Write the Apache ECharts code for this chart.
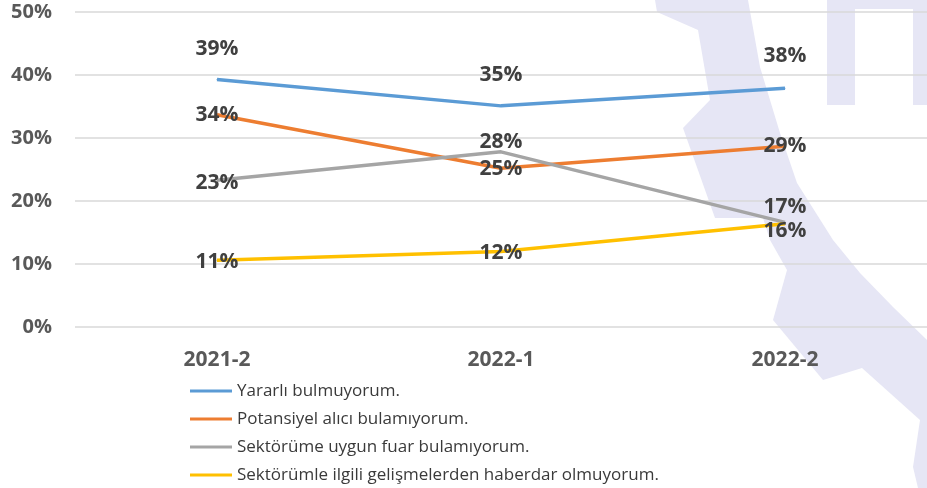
<!DOCTYPE html>
<html>
<head>
<meta charset="utf-8">
<script src="https://cdn.jsdelivr.net/npm/echarts@6/dist/echarts.min.js"></script>
<style>
  html, body { margin: 0; padding: 0; background: #fff; }
  #chart { width: 927px; height: 488px; }
</style>
</head>
<body>
<div id="chart"></div>
<script>
// dönemler
var periods = ['2021-2', '2022-1', '2022-2']
// seri adları
var names = [
  'Yararlı bulmuyorum.',
  'Potansiyel alıcı bulamıyorum.',
  'Sektörüme uygun fuar bulamıyorum.',
  'Sektörümle ilgili gelişmelerden haberdar olmuyorum.'
]
// değerler (%)
var yararli = [39.3, 35.1, 37.9]
var alici = [33.7, 25.2, 28.7]
var fuar = [23.3, 27.8, 16.6]
var haber = [10.6, 12.0, 16.4]
var yTicks = [0, 10, 20, 30, 40, 50]

var colors = ['#5B9BD5', '#ED7D31', '#A5A5A5', '#FFC000']
// etiket kaydırmaları (px)
var labelDy = [
  [-30, -31, -32],
  [0, 1, 0],
  [3, -10, -15],
  [2, 2, 7]
]

var chart = echarts.init(document.getElementById('chart'))

function makeSeries(i, values) {
  return {
    name: names[i],
    type: 'line',
    symbol: 'circle',
    symbolSize: 1,
    z: 3,
    lineStyle: { width: 3.5, color: colors[i] },
    itemStyle: { color: colors[i] },
    data: values.map(function (v, k) {
      return {
        value: v,
        label: { offset: [0, labelDy[i][k]] }
      }
    }),
    label: {
      show: true,
      position: 'inside',
      formatter: function (p) { return Math.round(p.value) + '%' },
      fontFamily: 'Open Sans',
      fontWeight: 'bold',
      fontSize: 21,
      color: '#404040'
    },
    animation: false
  }
}

var lav = '#E6E6F5'

chart.setOption({
  backgroundColor: '#fff',
  // arka plandaki soluk logo
  graphic: [
    { type: 'polygon', z: -10, silent: true,
      shape: { points: [
        [655, 0], [748, 0], [760, 67], [780, 133], [797, 183], [833, 240],
        [860, 273], [893, 307], [927, 340], [927, 488], [918, 488], [913, 467],
        [920, 420], [862, 368], [823, 380], [773, 320], [787, 270], [770, 240],
        [763, 218], [715, 218], [683, 128], [710, 100], [698, 30], [657, 12]
      ] },
      style: { fill: lav } },
    { type: 'rect', z: -10, silent: true,
      shape: { x: 827, y: 0, width: 28, height: 105 }, style: { fill: lav } },
    { type: 'rect', z: -10, silent: true,
      shape: { x: 913, y: 0, width: 14, height: 105 }, style: { fill: lav } },
    { type: 'rect', z: -10, silent: true,
      shape: { x: 827, y: 0, width: 100, height: 9 }, style: { fill: lav } }
  ],
  legend: {
    orient: 'vertical',
    left: 190,
    top: 381,
    padding: 0,
    height: 120,
    icon: 'rect',
    itemWidth: 42,
    itemHeight: 3,
    itemGap: 8,
    data: names,
    textStyle: {
      fontFamily: 'Open Sans',
      fontSize: 17,
      color: '#3A3A3A',
      lineHeight: 20
    }
  },
  grid: {
    left: 75,
    top: 12,
    width: 858,
    height: 315
  },
  xAxis: {
    type: 'category',
    data: periods,
    boundaryGap: true,
    axisLine: { show: false },
    axisTick: { show: false },
    axisLabel: {
      margin: 23,
      fontFamily: 'Open Sans',
      fontWeight: 'bold',
      fontSize: 21,
      color: '#595959'
    }
  },
  yAxis: {
    type: 'value',
    min: yTicks[0],
    max: yTicks[yTicks.length - 1],
    interval: 10,
    axisLine: { show: false },
    axisTick: { show: false },
    splitLine: { lineStyle: { color: '#D9D9D9', width: 1.5 } },
    axisLabel: {
      margin: 23,
      formatter: '{value}%',
      fontFamily: 'Open Sans',
      fontWeight: 'bold',
      fontSize: 20,
      color: '#595959'
    }
  },
  series: [
    makeSeries(0, yararli),
    makeSeries(1, alici),
    makeSeries(2, fuar),
    makeSeries(3, haber)
  ]
})
</script>
</body>
</html>
